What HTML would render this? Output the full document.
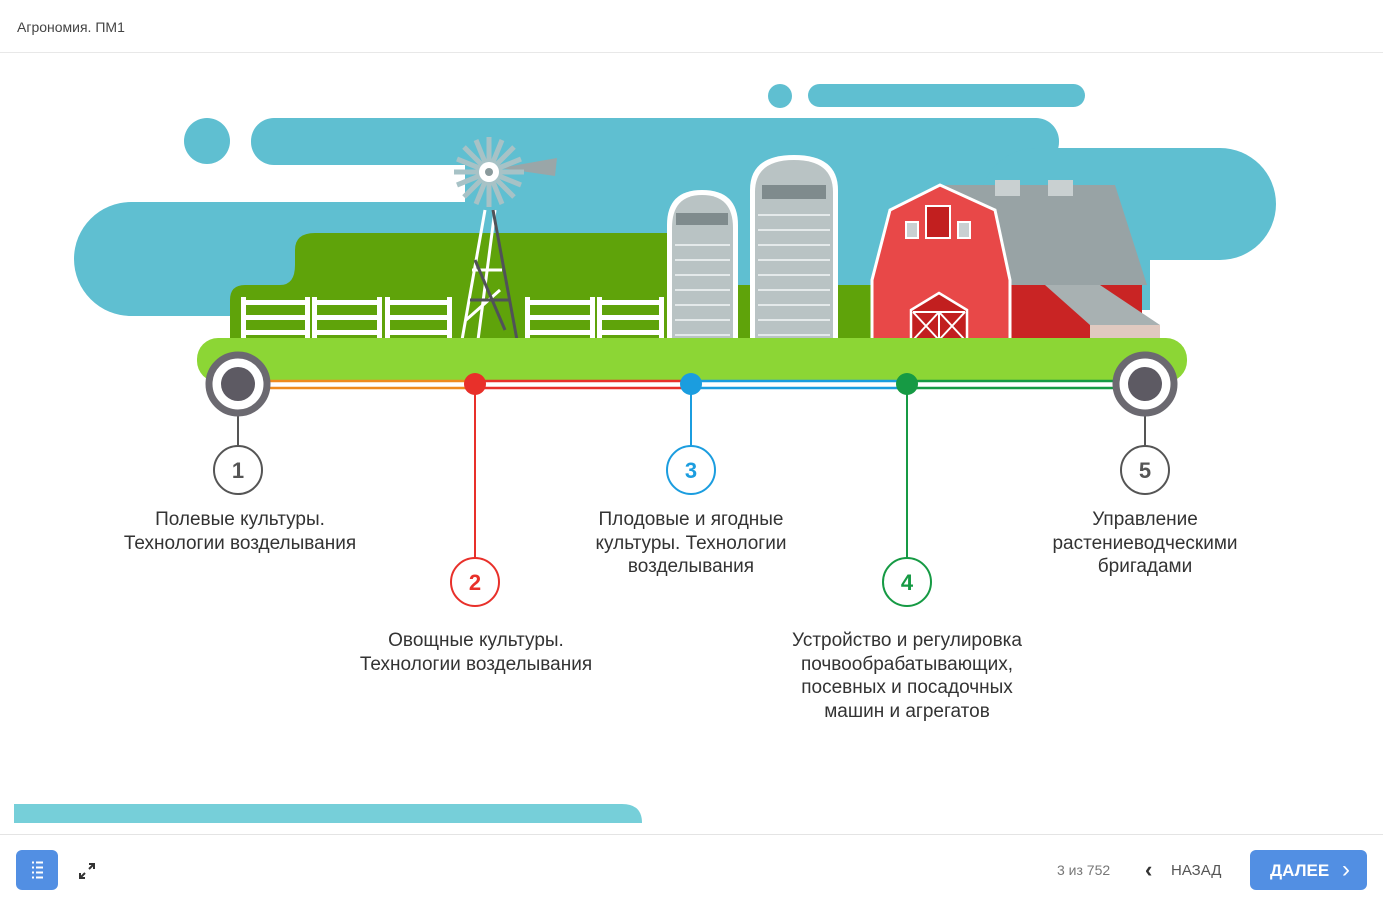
<!DOCTYPE html>
<html><head><meta charset="utf-8"><style>
html,body{margin:0;padding:0;background:#fff;}
body{width:1383px;height:905px;position:relative;overflow:hidden;font-family:"Liberation Sans","Noto Sans CJK SC",sans-serif;}
.hdr{position:absolute;left:17px;top:19px;font-size:14px;color:#444;}
.hl{position:absolute;left:0;top:52px;width:1383px;height:1px;background:#e8e8e8;}
.fl{position:absolute;left:0;top:834px;width:1383px;height:1px;background:#e4e4e4;}
.t{position:absolute;font-size:19px;line-height:23.5px;color:#333;text-align:center;width:300px;}
.btn{position:absolute;background:#528fe3;border-radius:6px;}
</style></head><body>
<div class="hdr">Агрономия. ПМ1</div>
<div class="hl"></div>
<svg width="1383" height="905" style="position:absolute;left:0;top:0">
<!-- sky -->
<circle cx="207" cy="141" r="23" fill="#5fbfd1"/>
<circle cx="780" cy="96" r="12" fill="#5fbfd1"/>
<rect x="808" y="84" width="277" height="23" rx="11.5" fill="#5fbfd1"/>
<rect x="251" y="118" width="808" height="47" rx="23" fill="#5fbfd1"/>
<rect x="74" y="202" width="1000" height="114" rx="57" fill="#5fbfd1"/>
<rect x="465" y="160" width="595" height="60" fill="#5fbfd1"/>
<rect x="980" y="148" width="296" height="112" rx="56" fill="#5fbfd1"/>
<rect x="1000" y="200" width="150" height="110" fill="#5fbfd1"/>
<!-- dark green -->
<path d="M230 340 V300 Q230 285 245 285 H280 Q295 285 295 265 V250 Q295 233 315 233 H670 V340 Z" fill="#5fa30a"/>
<rect x="735" y="285" width="143" height="55" fill="#5fa30a"/>
<!-- fences -->
<g fill="#fff">
<rect x="241" y="300" width="64" height="5"/><rect x="241" y="315" width="64" height="5"/><rect x="241" y="330" width="64" height="5"/>
<rect x="312" y="300" width="65" height="5"/><rect x="312" y="315" width="65" height="5"/><rect x="312" y="330" width="65" height="5"/>
<rect x="385" y="300" width="65" height="5"/><rect x="385" y="315" width="65" height="5"/><rect x="385" y="330" width="65" height="5"/>
<rect x="525" y="300" width="65" height="5"/><rect x="525" y="315" width="65" height="5"/><rect x="525" y="330" width="65" height="5"/>
<rect x="597" y="300" width="65" height="5"/><rect x="597" y="315" width="65" height="5"/><rect x="597" y="330" width="65" height="5"/>
<rect x="241" y="297" width="5" height="43"/><rect x="305" y="297" width="5" height="43"/><rect x="312" y="297" width="5" height="43"/><rect x="377" y="297" width="5" height="43"/><rect x="385" y="297" width="5" height="43"/><rect x="447" y="297" width="5" height="43"/>
<rect x="525" y="297" width="5" height="43"/><rect x="590" y="297" width="5" height="43"/><rect x="597" y="297" width="5" height="43"/><rect x="659" y="297" width="5" height="43"/>
</g>
<!-- windmill -->
<g stroke="#fff" stroke-width="3" fill="none">
<path d="M462 340 L485 210 M478 340 L495 210 M468 300 L498 300 M472 270 L502 270 M466 320 L500 290"/>
</g>
<g stroke="#505258" stroke-width="3" fill="none">
<path d="M517 340 L493 210 M470 300 L510 300 M475 260 L505 330"/>
</g>
<path d="M500 168 L557 158 L555 176 Z" fill="#9aa6a8"/>
<g stroke="#a7c2c6" stroke-width="5">
<line x1="489" y1="137" x2="489" y2="207"/><line x1="454" y1="172" x2="524" y2="172"/>
<line x1="464" y1="147" x2="514" y2="197"/><line x1="514" y1="147" x2="464" y2="197"/>
<line x1="476" y1="140" x2="502" y2="204"/><line x1="502" y1="140" x2="476" y2="204"/>
<line x1="457" y1="159" x2="521" y2="185"/><line x1="457" y1="185" x2="521" y2="159"/>
</g>
<circle cx="489" cy="172" r="10" fill="#fff"/><circle cx="489" cy="172" r="4" fill="#8a9a9c"/>
<!-- silos -->
<path d="M667 340 V225 Q667 190 702 190 Q738 190 738 225 V340 Z" fill="#fff"/>
<path d="M672 340 V228 Q672 195 702 195 Q733 195 733 228 V340 Z" fill="#b9c3c4"/>
<rect x="676" y="213" width="52" height="12" fill="#7f8b8d"/>
<path d="M750 340 V190 Q750 155 794 155 Q838 155 838 190 V340 Z" fill="#fff"/>
<path d="M755 340 V192 Q755 160 794 160 Q833 160 833 192 V340 Z" fill="#b9c3c4"/>
<rect x="762" y="185" width="64" height="14" fill="#7f8b8d"/>
<g stroke="#e4e9ea" stroke-width="2">
<path d="M675 245H730M675 260H730M675 275H730M675 290H730M675 305H730M675 320H730M675 335H730"/>
<path d="M758 215H830M758 230H830M758 245H830M758 260H830M758 275H830M758 290H830M758 305H830M758 320H830M758 335H830"/>
</g>
<!-- barn -->
<path d="M945 185 H1115 L1147 285 H1005 Z" fill="#98a3a5"/>
<rect x="995" y="180" width="25" height="16" fill="#c9d0d1"/><rect x="1048" y="180" width="25" height="16" fill="#c9d0d1"/>
<rect x="1000" y="285" width="142" height="55" fill="#c92424"/>
<path d="M1045 285 L1100 285 L1160 325 L1090 325 Z" fill="#a8b1b2"/>
<rect x="1090" y="325" width="70" height="15" fill="#e0c9c0"/>
<path d="M872 340 V280 L890 210 L940 185 L995 210 L1010 280 V340 Z" fill="#e84848" stroke="#fff" stroke-width="3"/>
<rect x="926" y="206" width="24" height="32" fill="#c21f1f" stroke="#fff" stroke-width="2"/>
<rect x="906" y="222" width="12" height="16" fill="#c9d0d1" stroke="#fff" stroke-width="2"/>
<rect x="958" y="222" width="12" height="16" fill="#c9d0d1" stroke="#fff" stroke-width="2"/>
<path d="M911 340 V310 L939 293 L967 310 V340" fill="#c21f1f" stroke="#fff" stroke-width="2.5"/>
<path d="M913 312 L939 340 M939 312 L913 340 M939 312 L965 340 M965 312 L939 340 M939 312 V340 M913 312 H965" stroke="#fff" stroke-width="2"/>
<!-- ground -->
<rect x="197" y="338" width="990" height="44" rx="21" fill="#8cd635"/>
<!-- lines -->
<g stroke-width="2.5">
<path d="M262 381 H475 M262 388 H475" stroke="#ef8a1f"/>
<path d="M475 381 H691 M475 388 H691" stroke="#e8302a"/>
<path d="M691 381 H907 M691 388 H907" stroke="#1b9ddf"/>
<path d="M907 381 H1122 M907 388 H1122" stroke="#169a44"/>
</g>
<g stroke-width="2">
<line x1="238" y1="410" x2="238" y2="446" stroke="#555"/>
<line x1="1145" y1="410" x2="1145" y2="446" stroke="#555"/>
<line x1="475" y1="390" x2="475" y2="558" stroke="#e8302a"/>
<line x1="691" y1="390" x2="691" y2="446" stroke="#1b9ddf"/>
<line x1="907" y1="390" x2="907" y2="558" stroke="#169a44"/>
</g>
<circle cx="475" cy="384" r="11" fill="#e8302a"/>
<circle cx="691" cy="384" r="11" fill="#1b9ddf"/>
<circle cx="907" cy="384" r="11" fill="#169a44"/>
<g>
<circle cx="238" cy="384" r="29" fill="#fff" stroke="#6b6970" stroke-width="7"/>
<circle cx="238" cy="384" r="17" fill="#5d5a63"/>
<circle cx="1145" cy="384" r="29" fill="#fff" stroke="#6b6970" stroke-width="7"/>
<circle cx="1145" cy="384" r="17" fill="#5d5a63"/>
</g>
<g fill="#fff" stroke-width="2" font-family="Liberation Sans, sans-serif" font-size="22" font-weight="bold" text-anchor="middle">
<circle cx="238" cy="470" r="24" stroke="#555"/><text x="238" y="478" fill="#555" stroke="none">1</text>
<circle cx="475" cy="582" r="24" stroke="#e8302a"/><text x="475" y="590" fill="#e8302a" stroke="none">2</text>
<circle cx="691" cy="470" r="24" stroke="#1b9ddf"/><text x="691" y="478" fill="#1b9ddf" stroke="none">3</text>
<circle cx="907" cy="582" r="24" stroke="#169a44"/><text x="907" y="590" fill="#169a44" stroke="none">4</text>
<circle cx="1145" cy="470" r="24" stroke="#555"/><text x="1145" y="478" fill="#555" stroke="none">5</text>
</g>
<!-- bottom teal -->
<path d="M14 804 H622 Q642 804 642 823 H14 Z" fill="#76cfd9"/>
</svg>
<div class="t" style="left:90px;top:508px">Полевые культуры.<br>Технологии возделывания</div>
<div class="t" style="left:326px;top:629px">Овощные культуры.<br>Технологии возделывания</div>
<div class="t" style="left:541px;top:508px">Плодовые и ягодные<br>культуры. Технологии<br>возделывания</div>
<div class="t" style="left:757px;top:629px">Устройство и регулировка<br>почвообрабатывающих,<br>посевных и посадочных<br>машин и агрегатов</div>
<div class="t" style="left:995px;top:508px">Управление<br>растениеводческими<br>бригадами</div>
<div class="fl"></div>
<div class="btn" style="left:16px;top:850px;width:42px;height:40px;">
<svg width="42" height="40"><g stroke="#fff" stroke-width="2"><path d="M16 14H18M20 14H27M16 19H18M20 19H27M16 24H18M20 24H27M16 29H18M20 29H27" transform="translate(0,-1.5)"/></g></svg></div>
<svg width="20" height="20" style="position:absolute;left:77px;top:861px"><g stroke="#333" stroke-width="2" fill="none"><path d="M3 17L8 12M3 12V17H8M17 3L12 8M12 3H17V8"/></g></svg>
<div style="position:absolute;left:1057px;top:862px;font-size:14px;color:#777">3 из 752</div>
<div style="position:absolute;left:1145px;top:857px;font-size:22px;color:#333;font-weight:bold">&#8249;</div>
<div style="position:absolute;left:1171px;top:862px;font-size:15px;color:#555">НАЗАД</div>
<div class="btn" style="left:1250px;top:850px;width:117px;height:40px;"><div style="position:absolute;left:20px;top:11px;font-size:17px;font-weight:bold;color:#fff">ДАЛЕЕ</div><div style="position:absolute;left:92px;top:6px;font-size:24px;color:#fff">&#8250;</div></div>
</body></html>
